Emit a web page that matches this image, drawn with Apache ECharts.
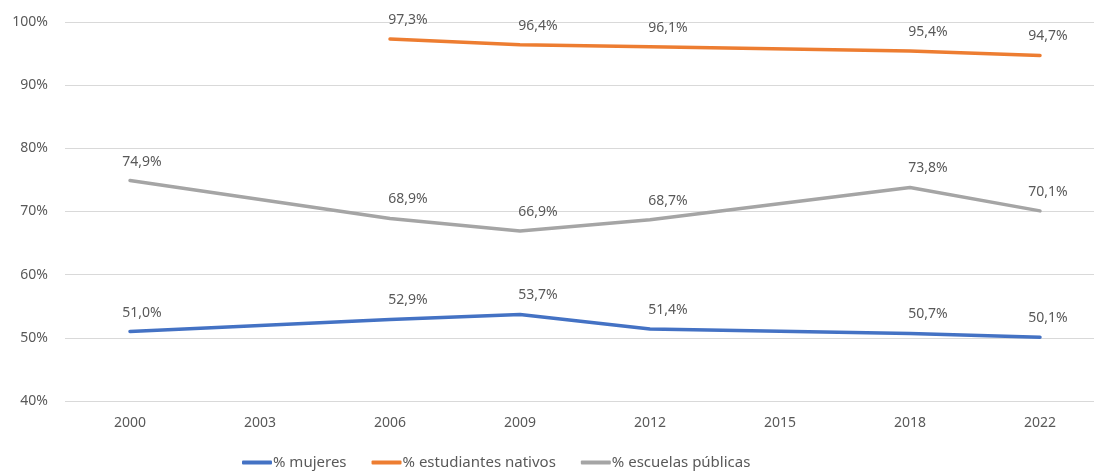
<!DOCTYPE html>
<html>
<head>
<meta charset="utf-8">
<script src="https://cdn.jsdelivr.net/npm/echarts@6/dist/echarts.min.js"></script>
<style>
  html, body { margin: 0; padding: 0; background: #fff; overflow: hidden; }
  #chart { width: 1105px; height: 475px; }
</style>
</head>
<body>
<div id="chart"></div>
<script>
  // años evaluados
  const years = ['2000', '2003', '2006', '2009', '2012', '2015', '2018', '2022'];
  // valores en %, null donde no hay dato etiquetado
  const mujeres = [51.0, null, 52.9, 53.7, 51.4, null, 50.7, 50.1];
  const nativos = [null, null, 97.3, 96.4, 96.1, null, 95.4, 94.7];
  const escuelas = [74.9, null, 68.9, 66.9, 68.7, null, 73.8, 70.1];
  const yTicks = [40, 50, 60, 70, 80, 90, 100];

  const txt = '#595959';
  const font = 'Noto Sans';

  function pct(v) {
    return v.toFixed(1).replace('.', ',') + '%';
  }

  // desplazamiento horizontal de las etiquetas segun la posicion
  function labelDx(i) {
    if (i === 0) return 12;
    if (i === years.length - 1) return 8;
    return 18;
  }

  function makeSeries(name, values, color) {
    return {
      name: name,
      type: 'line',
      connectNulls: true,
      symbol: 'circle',
      symbolSize: 0,
      showSymbol: true,
      lineStyle: { color: color, width: 3.5, cap: 'round' },
      itemStyle: { color: color },
      data: values.map(function (v, i) {
        if (v === null) return null;
        return {
          value: v,
          label: { offset: [labelDx(i), -6] }
        };
      }),
      label: {
        show: true,
        position: 'top',
        distance: 6,
        color: txt,
        fontFamily: font,
        fontSize: 14,
        formatter: function (p) { return pct(p.value); }
      }
    };
  }

  const chart = echarts.init(document.getElementById('chart'));
  chart.setOption({
    animation: false,
    textStyle: { fontFamily: font },
    grid: { left: 65, width: 1040, top: 22, bottom: 74 },
    legend: {
      bottom: 0,
      left: 237,
      itemWidth: 30,
      itemHeight: 4,
      itemGap: 25,
      icon: 'roundRect',
      textStyle: { color: txt, fontSize: 15, fontFamily: font, padding: [0, 0, 0, -4] },
      data: ['% mujeres', '% estudiantes nativos', '% escuelas públicas']
    },
    xAxis: {
      type: 'category',
      data: years,
      boundaryGap: true,
      axisLine: { show: false },
      axisTick: { show: false },
      axisLabel: { color: txt, fontSize: 14, margin: 15, fontFamily: font }
    },
    yAxis: {
      type: 'value',
      min: yTicks[0],
      max: yTicks[yTicks.length - 1],
      interval: 10,
      axisLine: { show: false },
      axisTick: { show: false },
      splitLine: { lineStyle: { color: '#d9d9d9', width: 1 } },
      axisLabel: {
        color: txt,
        fontSize: 14,
        margin: 17,
        fontFamily: font,
        formatter: function (v) { return v + '%'; }
      }
    },
    series: [
      makeSeries('% mujeres', mujeres, '#4472C4'),
      makeSeries('% estudiantes nativos', nativos, '#ED7D31'),
      makeSeries('% escuelas públicas', escuelas, '#A5A5A5')
    ]
  });
</script>
</body>
</html>
